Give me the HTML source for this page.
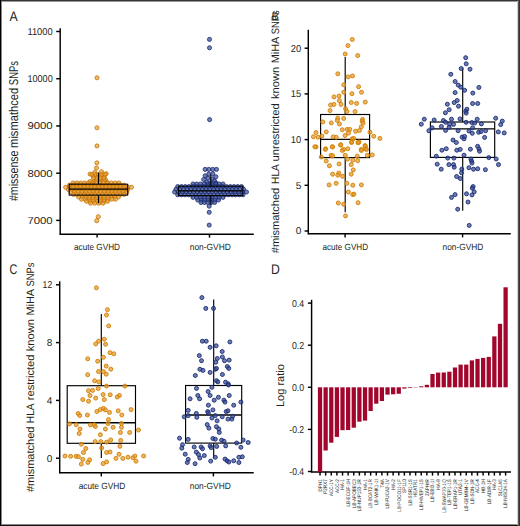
<!DOCTYPE html>
<html><head><meta charset="utf-8"><style>
html,body{margin:0;padding:0;background:#fff;}
body{width:520px;height:526px;overflow:hidden;position:relative;}
svg{position:absolute;left:0;top:0;display:block;}
text{font-family:"Liberation Sans", sans-serif;text-rendering:geometricPrecision;}
</style></head><body>
<svg width="520" height="526" viewBox="0 0 520 526">
<rect x="0" y="0" width="520" height="526" fill="#fff"/>
<text x="9.40" y="20.60" font-size="14" text-anchor="start" fill="#231f20" textLength="8.20" lengthAdjust="spacingAndGlyphs" >A</text>
<text x="270.90" y="273.60" font-size="14" text-anchor="start" fill="#231f20" textLength="8.80" lengthAdjust="spacingAndGlyphs" >D</text>
<text x="9.60" y="273.60" font-size="14" text-anchor="start" fill="#231f20" textLength="7.80" lengthAdjust="spacingAndGlyphs" >C</text>
<line x1="60.20" y1="28.30" x2="60.20" y2="234.70" stroke="#000" stroke-width="1.45"/>
<line x1="59.70" y1="234.20" x2="253.80" y2="234.20" stroke="#000" stroke-width="1.45"/>
<line x1="56.20" y1="220.40" x2="60.20" y2="220.40" stroke="#000" stroke-width="1.45"/>
<text x="52.70" y="223.80" font-size="10.0" text-anchor="end" fill="#231f20" textLength="25.30" lengthAdjust="spacingAndGlyphs" >7000</text>
<line x1="56.20" y1="173.18" x2="60.20" y2="173.18" stroke="#000" stroke-width="1.45"/>
<text x="52.70" y="176.58" font-size="10.0" text-anchor="end" fill="#231f20" textLength="25.30" lengthAdjust="spacingAndGlyphs" >8000</text>
<line x1="56.20" y1="125.95" x2="60.20" y2="125.95" stroke="#000" stroke-width="1.45"/>
<text x="52.70" y="129.35" font-size="10.0" text-anchor="end" fill="#231f20" textLength="25.30" lengthAdjust="spacingAndGlyphs" >9000</text>
<line x1="56.20" y1="78.72" x2="60.20" y2="78.72" stroke="#000" stroke-width="1.45"/>
<text x="52.70" y="82.12" font-size="10.0" text-anchor="end" fill="#231f20" textLength="25.30" lengthAdjust="spacingAndGlyphs" >10000</text>
<line x1="56.20" y1="31.50" x2="60.20" y2="31.50" stroke="#000" stroke-width="1.45"/>
<text x="52.70" y="34.90" font-size="10.0" text-anchor="end" fill="#231f20" textLength="25.30" lengthAdjust="spacingAndGlyphs" >11000</text>
<line x1="97.10" y1="234.20" x2="97.10" y2="237.60" stroke="#000" stroke-width="1.45"/>
<text x="97.00" y="250.30" font-size="9" text-anchor="middle" fill="#231f20" textLength="46.00" lengthAdjust="spacingAndGlyphs" >acute GVHD</text>
<line x1="209.50" y1="234.20" x2="209.50" y2="237.60" stroke="#000" stroke-width="1.45"/>
<text x="210.25" y="250.30" font-size="9" text-anchor="middle" fill="#231f20" textLength="41.00" lengthAdjust="spacingAndGlyphs" >non-GVHD</text>
<text x="18.00" y="201.00" font-size="12.8" text-anchor="start" fill="#231f20" textLength="50.40" lengthAdjust="spacingAndGlyphs" transform="rotate(-90 18.00 201.00)" >#missense</text>
<text x="18.00" y="147.90" font-size="12.8" text-anchor="start" fill="#231f20" textLength="60.10" lengthAdjust="spacingAndGlyphs" transform="rotate(-90 18.00 147.90)" >mismathced</text>
<text x="18.00" y="85.20" font-size="12.8" text-anchor="start" fill="#231f20" textLength="24.30" lengthAdjust="spacingAndGlyphs" transform="rotate(-90 18.00 85.20)" >SNPs</text>
<line x1="308.30" y1="29.80" x2="308.30" y2="234.30" stroke="#000" stroke-width="1.45"/>
<line x1="307.80" y1="233.80" x2="510.80" y2="233.80" stroke="#000" stroke-width="1.45"/>
<line x1="304.60" y1="231.00" x2="308.30" y2="231.00" stroke="#000" stroke-width="1.45"/>
<text x="301.20" y="234.40" font-size="10.0" text-anchor="end" fill="#231f20" >0</text>
<line x1="304.60" y1="185.30" x2="308.30" y2="185.30" stroke="#000" stroke-width="1.45"/>
<text x="301.20" y="188.70" font-size="10.0" text-anchor="end" fill="#231f20" >5</text>
<line x1="304.60" y1="139.60" x2="308.30" y2="139.60" stroke="#000" stroke-width="1.45"/>
<text x="301.20" y="143.00" font-size="10.0" text-anchor="end" fill="#231f20" textLength="10.40" lengthAdjust="spacingAndGlyphs" >10</text>
<line x1="304.60" y1="93.90" x2="308.30" y2="93.90" stroke="#000" stroke-width="1.45"/>
<text x="301.20" y="97.30" font-size="10.0" text-anchor="end" fill="#231f20" textLength="10.40" lengthAdjust="spacingAndGlyphs" >15</text>
<line x1="304.60" y1="48.20" x2="308.30" y2="48.20" stroke="#000" stroke-width="1.45"/>
<text x="301.20" y="51.60" font-size="10.0" text-anchor="end" fill="#231f20" textLength="10.40" lengthAdjust="spacingAndGlyphs" >20</text>
<line x1="345.10" y1="233.80" x2="345.10" y2="237.40" stroke="#000" stroke-width="1.45"/>
<text x="345.25" y="250.20" font-size="9" text-anchor="middle" fill="#231f20" textLength="45.50" lengthAdjust="spacingAndGlyphs" >acute GVHD</text>
<line x1="462.60" y1="233.80" x2="462.60" y2="237.40" stroke="#000" stroke-width="1.45"/>
<text x="462.90" y="250.20" font-size="9" text-anchor="middle" fill="#231f20" textLength="40.80" lengthAdjust="spacingAndGlyphs" >non-GVHD</text>
<text x="279.30" y="253.20" font-size="10.8" text-anchor="start" fill="#231f20" textLength="65.40" lengthAdjust="spacingAndGlyphs" transform="rotate(-90 279.30 253.20)" >#mismatched</text>
<text x="279.30" y="184.00" font-size="10.8" text-anchor="start" fill="#231f20" textLength="19.90" lengthAdjust="spacingAndGlyphs" transform="rotate(-90 279.30 184.00)" >HLA</text>
<text x="279.30" y="161.40" font-size="10.8" text-anchor="start" fill="#231f20" textLength="58.10" lengthAdjust="spacingAndGlyphs" transform="rotate(-90 279.30 161.40)" >unrestricted</text>
<text x="279.30" y="99.00" font-size="10.8" text-anchor="start" fill="#231f20" textLength="32.30" lengthAdjust="spacingAndGlyphs" transform="rotate(-90 279.30 99.00)" >known</text>
<text x="279.30" y="63.30" font-size="10.8" text-anchor="start" fill="#231f20" textLength="26.50" lengthAdjust="spacingAndGlyphs" transform="rotate(-90 279.30 63.30)" >MiHA</text>
<text x="279.30" y="34.30" font-size="10.8" text-anchor="start" fill="#231f20" textLength="23.90" lengthAdjust="spacingAndGlyphs" transform="rotate(-90 279.30 34.30)" >SNPs</text>
<text x="271.50" y="19.50" font-size="11" text-anchor="start" fill="#231f20" >B</text>
<line x1="59.70" y1="281.30" x2="59.70" y2="473.30" stroke="#000" stroke-width="1.45"/>
<line x1="59.20" y1="472.80" x2="253.70" y2="472.80" stroke="#000" stroke-width="1.45"/>
<line x1="56.00" y1="458.20" x2="59.70" y2="458.20" stroke="#000" stroke-width="1.45"/>
<text x="52.20" y="461.60" font-size="10.0" text-anchor="end" fill="#231f20" >0</text>
<line x1="56.00" y1="400.40" x2="59.70" y2="400.40" stroke="#000" stroke-width="1.45"/>
<text x="52.20" y="403.80" font-size="10.0" text-anchor="end" fill="#231f20" >4</text>
<line x1="56.00" y1="342.60" x2="59.70" y2="342.60" stroke="#000" stroke-width="1.45"/>
<text x="52.20" y="346.00" font-size="10.0" text-anchor="end" fill="#231f20" >8</text>
<line x1="56.00" y1="284.80" x2="59.70" y2="284.80" stroke="#000" stroke-width="1.45"/>
<text x="52.20" y="288.20" font-size="10.0" text-anchor="end" fill="#231f20" textLength="9.60" lengthAdjust="spacingAndGlyphs" >12</text>
<line x1="101.30" y1="472.80" x2="101.30" y2="476.40" stroke="#000" stroke-width="1.45"/>
<text x="102.00" y="489.20" font-size="9" text-anchor="middle" fill="#231f20" textLength="46.70" lengthAdjust="spacingAndGlyphs" >acute GVHD</text>
<line x1="213.40" y1="472.80" x2="213.40" y2="476.40" stroke="#000" stroke-width="1.45"/>
<text x="210.30" y="489.20" font-size="9" text-anchor="middle" fill="#231f20" textLength="41.00" lengthAdjust="spacingAndGlyphs" >non-GVHD</text>
<text x="34.20" y="492.00" font-size="10.8" text-anchor="start" fill="#231f20" textLength="65.40" lengthAdjust="spacingAndGlyphs" transform="rotate(-90 34.20 492.00)" >#mismatched</text>
<text x="34.20" y="423.20" font-size="10.8" text-anchor="start" fill="#231f20" textLength="19.90" lengthAdjust="spacingAndGlyphs" transform="rotate(-90 34.20 423.20)" >HLA</text>
<text x="34.20" y="400.20" font-size="10.8" text-anchor="start" fill="#231f20" textLength="45.60" lengthAdjust="spacingAndGlyphs" transform="rotate(-90 34.20 400.20)" >restricted</text>
<text x="34.20" y="351.20" font-size="10.8" text-anchor="start" fill="#231f20" textLength="32.30" lengthAdjust="spacingAndGlyphs" transform="rotate(-90 34.20 351.20)" >known</text>
<text x="34.20" y="315.50" font-size="10.8" text-anchor="start" fill="#231f20" textLength="26.50" lengthAdjust="spacingAndGlyphs" transform="rotate(-90 34.20 315.50)" >MiHA</text>
<text x="34.20" y="286.50" font-size="10.8" text-anchor="start" fill="#231f20" textLength="23.90" lengthAdjust="spacingAndGlyphs" transform="rotate(-90 34.20 286.50)" >SNPs</text>
<line x1="311.60" y1="299.80" x2="311.60" y2="472.40" stroke="#000" stroke-width="1.45"/>
<line x1="311.10" y1="471.90" x2="511.00" y2="471.90" stroke="#000" stroke-width="1.45"/>
<rect x="317.90" y="387.30" width="4.25" height="85.10" fill="#a2062c" stroke="none" stroke-width="1.0"/>
<rect x="323.52" y="387.30" width="4.25" height="63.20" fill="#a2062c" stroke="none" stroke-width="1.0"/>
<rect x="329.15" y="387.30" width="4.25" height="55.40" fill="#a2062c" stroke="none" stroke-width="1.0"/>
<rect x="334.77" y="387.30" width="4.25" height="49.60" fill="#a2062c" stroke="none" stroke-width="1.0"/>
<rect x="340.40" y="387.30" width="4.25" height="42.90" fill="#a2062c" stroke="none" stroke-width="1.0"/>
<rect x="346.02" y="387.30" width="4.25" height="42.70" fill="#a2062c" stroke="none" stroke-width="1.0"/>
<rect x="351.64" y="387.30" width="4.25" height="40.40" fill="#a2062c" stroke="none" stroke-width="1.0"/>
<rect x="357.27" y="387.30" width="4.25" height="34.40" fill="#a2062c" stroke="none" stroke-width="1.0"/>
<rect x="362.89" y="387.30" width="4.25" height="33.30" fill="#a2062c" stroke="none" stroke-width="1.0"/>
<rect x="368.52" y="387.30" width="4.25" height="23.70" fill="#a2062c" stroke="none" stroke-width="1.0"/>
<rect x="374.14" y="387.30" width="4.25" height="16.40" fill="#a2062c" stroke="none" stroke-width="1.0"/>
<rect x="379.76" y="387.30" width="4.25" height="13.70" fill="#a2062c" stroke="none" stroke-width="1.0"/>
<rect x="385.39" y="387.30" width="4.25" height="7.30" fill="#a2062c" stroke="none" stroke-width="1.0"/>
<rect x="391.01" y="387.30" width="4.25" height="7.00" fill="#a2062c" stroke="none" stroke-width="1.0"/>
<rect x="396.64" y="387.30" width="4.25" height="6.50" fill="#a2062c" stroke="none" stroke-width="1.0"/>
<rect x="402.26" y="387.30" width="4.25" height="1.30" fill="#a2062c" stroke="none" stroke-width="1.0"/>
<rect x="407.88" y="387.30" width="4.25" height="0.70" fill="#a2062c" stroke="none" stroke-width="1.0"/>
<rect x="413.51" y="387.30" width="4.25" height="0.30" fill="#a2062c" stroke="none" stroke-width="1.0"/>
<rect x="419.13" y="386.30" width="4.25" height="1.00" fill="#a2062c" stroke="none" stroke-width="1.0"/>
<rect x="424.76" y="384.80" width="4.25" height="2.50" fill="#a2062c" stroke="none" stroke-width="1.0"/>
<rect x="430.38" y="374.00" width="4.25" height="13.30" fill="#a2062c" stroke="none" stroke-width="1.0"/>
<rect x="436.00" y="372.60" width="4.25" height="14.70" fill="#a2062c" stroke="none" stroke-width="1.0"/>
<rect x="441.63" y="372.50" width="4.25" height="14.80" fill="#a2062c" stroke="none" stroke-width="1.0"/>
<rect x="447.25" y="371.70" width="4.25" height="15.60" fill="#a2062c" stroke="none" stroke-width="1.0"/>
<rect x="452.88" y="367.50" width="4.25" height="19.80" fill="#a2062c" stroke="none" stroke-width="1.0"/>
<rect x="458.50" y="364.60" width="4.25" height="22.70" fill="#a2062c" stroke="none" stroke-width="1.0"/>
<rect x="464.12" y="364.60" width="4.25" height="22.70" fill="#a2062c" stroke="none" stroke-width="1.0"/>
<rect x="469.75" y="360.40" width="4.25" height="26.90" fill="#a2062c" stroke="none" stroke-width="1.0"/>
<rect x="475.37" y="358.90" width="4.25" height="28.40" fill="#a2062c" stroke="none" stroke-width="1.0"/>
<rect x="481.00" y="357.90" width="4.25" height="29.40" fill="#a2062c" stroke="none" stroke-width="1.0"/>
<rect x="486.62" y="356.90" width="4.25" height="30.40" fill="#a2062c" stroke="none" stroke-width="1.0"/>
<rect x="492.24" y="336.40" width="4.25" height="50.90" fill="#a2062c" stroke="none" stroke-width="1.0"/>
<rect x="497.87" y="323.80" width="4.25" height="63.50" fill="#a2062c" stroke="none" stroke-width="1.0"/>
<rect x="503.49" y="287.30" width="4.25" height="100.00" fill="#a2062c" stroke="none" stroke-width="1.0"/>
<line x1="307.90" y1="303.10" x2="311.60" y2="303.10" stroke="#000" stroke-width="1.45"/>
<text x="304.10" y="306.50" font-size="10.0" text-anchor="end" fill="#231f20" textLength="12.20" lengthAdjust="spacingAndGlyphs" >0.4</text>
<line x1="307.90" y1="345.20" x2="311.60" y2="345.20" stroke="#000" stroke-width="1.45"/>
<text x="304.10" y="348.60" font-size="10.0" text-anchor="end" fill="#231f20" textLength="12.20" lengthAdjust="spacingAndGlyphs" >0.2</text>
<line x1="307.90" y1="387.30" x2="311.60" y2="387.30" stroke="#000" stroke-width="1.45"/>
<text x="304.10" y="390.70" font-size="10.0" text-anchor="end" fill="#231f20" textLength="12.20" lengthAdjust="spacingAndGlyphs" >0.0</text>
<line x1="307.90" y1="429.40" x2="311.60" y2="429.40" stroke="#000" stroke-width="1.45"/>
<text x="304.10" y="432.80" font-size="10.0" text-anchor="end" fill="#231f20" textLength="14.80" lengthAdjust="spacingAndGlyphs" >-0.2</text>
<line x1="307.90" y1="471.50" x2="311.60" y2="471.50" stroke="#000" stroke-width="1.45"/>
<text x="304.10" y="474.90" font-size="10.0" text-anchor="end" fill="#231f20" textLength="14.80" lengthAdjust="spacingAndGlyphs" >-0.4</text>
<line x1="320.02" y1="471.90" x2="320.02" y2="475.60" stroke="#000" stroke-width="1.45"/>
<text x="321.82" y="479.20" font-size="5.2" text-anchor="end" fill="#1a1a1a" textLength="12.27" lengthAdjust="spacingAndGlyphs" transform="rotate(-90 321.82 479.20)" >DPH1</text>
<line x1="325.64" y1="471.90" x2="325.64" y2="475.60" stroke="#000" stroke-width="1.45"/>
<text x="327.44" y="479.20" font-size="5.2" text-anchor="end" fill="#1a1a1a" textLength="14.57" lengthAdjust="spacingAndGlyphs" transform="rotate(-90 327.44 479.20)" >P2RX7</text>
<line x1="331.27" y1="471.90" x2="331.27" y2="475.60" stroke="#000" stroke-width="1.45"/>
<text x="333.07" y="479.20" font-size="5.2" text-anchor="end" fill="#1a1a1a" textLength="16.87" lengthAdjust="spacingAndGlyphs" transform="rotate(-90 333.07 479.20)" >ACC-1Y</text>
<line x1="336.89" y1="471.90" x2="336.89" y2="475.60" stroke="#000" stroke-width="1.45"/>
<text x="338.69" y="479.20" font-size="5.2" text-anchor="end" fill="#1a1a1a" textLength="13.80" lengthAdjust="spacingAndGlyphs" transform="rotate(-90 338.69 479.20)" >ACC-2</text>
<line x1="342.52" y1="471.90" x2="342.52" y2="475.60" stroke="#000" stroke-width="1.45"/>
<text x="344.32" y="479.20" font-size="5.2" text-anchor="end" fill="#1a1a1a" textLength="10.48" lengthAdjust="spacingAndGlyphs" transform="rotate(-90 344.32 479.20)" >HA-1</text>
<line x1="348.14" y1="471.90" x2="348.14" y2="475.60" stroke="#000" stroke-width="1.45"/>
<text x="349.94" y="479.20" font-size="5.2" text-anchor="end" fill="#1a1a1a" textLength="27.35" lengthAdjust="spacingAndGlyphs" transform="rotate(-90 349.94 479.20)" >LB-ECGF-1H</text>
<line x1="353.76" y1="471.90" x2="353.76" y2="475.60" stroke="#000" stroke-width="1.45"/>
<text x="355.56" y="479.20" font-size="5.2" text-anchor="end" fill="#1a1a1a" textLength="28.89" lengthAdjust="spacingAndGlyphs" transform="rotate(-90 355.56 479.20)" >LB-APOBEC3</text>
<line x1="359.39" y1="471.90" x2="359.39" y2="475.60" stroke="#000" stroke-width="1.45"/>
<text x="361.19" y="479.20" font-size="5.2" text-anchor="end" fill="#1a1a1a" textLength="31.96" lengthAdjust="spacingAndGlyphs" transform="rotate(-90 361.19 479.20)" >LB-NUP133-1R</text>
<line x1="365.01" y1="471.90" x2="365.01" y2="475.60" stroke="#000" stroke-width="1.45"/>
<text x="366.81" y="479.20" font-size="5.2" text-anchor="end" fill="#1a1a1a" textLength="10.48" lengthAdjust="spacingAndGlyphs" transform="rotate(-90 366.81 479.20)" >HA-1</text>
<line x1="370.64" y1="471.90" x2="370.64" y2="475.60" stroke="#000" stroke-width="1.45"/>
<text x="372.44" y="479.20" font-size="5.2" text-anchor="end" fill="#1a1a1a" textLength="29.40" lengthAdjust="spacingAndGlyphs" transform="rotate(-90 372.44 479.20)" >LB-BCAT2-1R</text>
<line x1="376.26" y1="471.90" x2="376.26" y2="475.60" stroke="#000" stroke-width="1.45"/>
<text x="378.06" y="479.20" font-size="5.2" text-anchor="end" fill="#1a1a1a" textLength="25.82" lengthAdjust="spacingAndGlyphs" transform="rotate(-90 378.06 479.20)" >LB-WNK1-1I</text>
<line x1="381.88" y1="471.90" x2="381.88" y2="475.60" stroke="#000" stroke-width="1.45"/>
<text x="383.68" y="479.20" font-size="5.2" text-anchor="end" fill="#1a1a1a" textLength="8.44" lengthAdjust="spacingAndGlyphs" transform="rotate(-90 383.68 479.20)" >T4A</text>
<line x1="387.51" y1="471.90" x2="387.51" y2="475.60" stroke="#000" stroke-width="1.45"/>
<text x="389.31" y="479.20" font-size="5.2" text-anchor="end" fill="#1a1a1a" textLength="29.40" lengthAdjust="spacingAndGlyphs" transform="rotate(-90 389.31 479.20)" >LB-FUCA2-1V</text>
<line x1="393.13" y1="471.90" x2="393.13" y2="475.60" stroke="#000" stroke-width="1.45"/>
<text x="394.93" y="479.20" font-size="5.2" text-anchor="end" fill="#1a1a1a" textLength="10.48" lengthAdjust="spacingAndGlyphs" transform="rotate(-90 394.93 479.20)" >HA-2</text>
<line x1="398.76" y1="471.90" x2="398.76" y2="475.60" stroke="#000" stroke-width="1.45"/>
<text x="400.56" y="479.20" font-size="5.2" text-anchor="end" fill="#1a1a1a" textLength="32.72" lengthAdjust="spacingAndGlyphs" transform="rotate(-90 400.56 479.20)" >LB-POCO11-1F</text>
<line x1="404.38" y1="471.90" x2="404.38" y2="475.60" stroke="#000" stroke-width="1.45"/>
<text x="406.18" y="479.20" font-size="5.2" text-anchor="end" fill="#1a1a1a" textLength="13.81" lengthAdjust="spacingAndGlyphs" transform="rotate(-90 406.18 479.20)" >SP110</text>
<line x1="410.00" y1="471.90" x2="410.00" y2="475.60" stroke="#000" stroke-width="1.45"/>
<text x="411.80" y="479.20" font-size="5.2" text-anchor="end" fill="#1a1a1a" textLength="26.33" lengthAdjust="spacingAndGlyphs" transform="rotate(-90 411.80 479.20)" >LB-SSR1-1S</text>
<line x1="415.63" y1="471.90" x2="415.63" y2="475.60" stroke="#000" stroke-width="1.45"/>
<text x="417.43" y="479.20" font-size="5.2" text-anchor="end" fill="#1a1a1a" textLength="18.15" lengthAdjust="spacingAndGlyphs" transform="rotate(-90 417.43 479.20)" >HEATR1</text>
<line x1="421.25" y1="471.90" x2="421.25" y2="475.60" stroke="#000" stroke-width="1.45"/>
<text x="423.05" y="479.20" font-size="5.2" text-anchor="end" fill="#1a1a1a" textLength="30.68" lengthAdjust="spacingAndGlyphs" transform="rotate(-90 423.05 479.20)" >LB-HIVEP1-1S</text>
<line x1="426.88" y1="471.90" x2="426.88" y2="475.60" stroke="#000" stroke-width="1.45"/>
<text x="428.68" y="479.20" font-size="5.2" text-anchor="end" fill="#1a1a1a" textLength="16.87" lengthAdjust="spacingAndGlyphs" transform="rotate(-90 428.68 479.20)" >ZAPHIR</text>
<line x1="432.50" y1="471.90" x2="432.50" y2="475.60" stroke="#000" stroke-width="1.45"/>
<text x="434.30" y="479.20" font-size="5.2" text-anchor="end" fill="#1a1a1a" textLength="22.50" lengthAdjust="spacingAndGlyphs" transform="rotate(-90 434.30 479.20)" >LB-EBI3-1I</text>
<line x1="438.12" y1="471.90" x2="438.12" y2="475.60" stroke="#000" stroke-width="1.45"/>
<text x="439.92" y="479.20" font-size="5.2" text-anchor="end" fill="#1a1a1a" textLength="10.48" lengthAdjust="spacingAndGlyphs" transform="rotate(-90 439.92 479.20)" >HA-8</text>
<line x1="443.75" y1="471.90" x2="443.75" y2="475.60" stroke="#000" stroke-width="1.45"/>
<text x="445.55" y="479.20" font-size="5.2" text-anchor="end" fill="#1a1a1a" textLength="33.49" lengthAdjust="spacingAndGlyphs" transform="rotate(-90 445.55 479.20)" >LB-SWAP70-1Q</text>
<line x1="449.37" y1="471.90" x2="449.37" y2="475.60" stroke="#000" stroke-width="1.45"/>
<text x="451.17" y="479.20" font-size="5.2" text-anchor="end" fill="#1a1a1a" textLength="25.82" lengthAdjust="spacingAndGlyphs" transform="rotate(-90 451.17 479.20)" >LB-TEP1-1S</text>
<line x1="455.00" y1="471.90" x2="455.00" y2="475.60" stroke="#000" stroke-width="1.45"/>
<text x="456.80" y="479.20" font-size="5.2" text-anchor="end" fill="#1a1a1a" textLength="29.66" lengthAdjust="spacingAndGlyphs" transform="rotate(-90 456.80 479.20)" >LB-ERAP1-1R</text>
<line x1="460.62" y1="471.90" x2="460.62" y2="475.60" stroke="#000" stroke-width="1.45"/>
<text x="462.42" y="479.20" font-size="5.2" text-anchor="end" fill="#1a1a1a" textLength="15.85" lengthAdjust="spacingAndGlyphs" transform="rotate(-90 462.42 479.20)" >UTA2-1</text>
<line x1="466.24" y1="471.90" x2="466.24" y2="475.60" stroke="#000" stroke-width="1.45"/>
<text x="468.04" y="479.20" font-size="5.2" text-anchor="end" fill="#1a1a1a" textLength="31.95" lengthAdjust="spacingAndGlyphs" transform="rotate(-90 468.04 479.20)" >LB-GEMIN4-1V</text>
<line x1="471.87" y1="471.90" x2="471.87" y2="475.60" stroke="#000" stroke-width="1.45"/>
<text x="473.67" y="479.20" font-size="5.2" text-anchor="end" fill="#1a1a1a" textLength="24.54" lengthAdjust="spacingAndGlyphs" transform="rotate(-90 473.67 479.20)" >LB-SON-1R</text>
<line x1="477.49" y1="471.90" x2="477.49" y2="475.60" stroke="#000" stroke-width="1.45"/>
<text x="479.29" y="479.20" font-size="5.2" text-anchor="end" fill="#1a1a1a" textLength="13.80" lengthAdjust="spacingAndGlyphs" transform="rotate(-90 479.29 479.20)" >ACC-4</text>
<line x1="483.12" y1="471.90" x2="483.12" y2="475.60" stroke="#000" stroke-width="1.45"/>
<text x="484.92" y="479.20" font-size="5.2" text-anchor="end" fill="#1a1a1a" textLength="13.80" lengthAdjust="spacingAndGlyphs" transform="rotate(-90 484.92 479.20)" >HB-1H</text>
<line x1="488.74" y1="471.90" x2="488.74" y2="475.60" stroke="#000" stroke-width="1.45"/>
<text x="490.54" y="479.20" font-size="5.2" text-anchor="end" fill="#1a1a1a" textLength="25.05" lengthAdjust="spacingAndGlyphs" transform="rotate(-90 490.54 479.20)" >LB-ADIR-1F</text>
<line x1="494.36" y1="471.90" x2="494.36" y2="475.60" stroke="#000" stroke-width="1.45"/>
<text x="496.16" y="479.20" font-size="5.2" text-anchor="end" fill="#1a1a1a" textLength="10.48" lengthAdjust="spacingAndGlyphs" transform="rotate(-90 496.16 479.20)" >HA-3</text>
<line x1="499.99" y1="471.90" x2="499.99" y2="475.60" stroke="#000" stroke-width="1.45"/>
<text x="501.79" y="479.20" font-size="5.2" text-anchor="end" fill="#1a1a1a" textLength="17.13" lengthAdjust="spacingAndGlyphs" transform="rotate(-90 501.79 479.20)" >SLC1A5</text>
<line x1="505.61" y1="471.90" x2="505.61" y2="475.60" stroke="#000" stroke-width="1.45"/>
<text x="507.41" y="479.20" font-size="5.2" text-anchor="end" fill="#1a1a1a" textLength="28.63" lengthAdjust="spacingAndGlyphs" transform="rotate(-90 507.41 479.20)" >LB-NISCH-1A</text>
<text x="284.40" y="385.60" font-size="11" text-anchor="middle" fill="#231f20" textLength="42.80" lengthAdjust="spacingAndGlyphs" transform="rotate(-90 284.40 385.60)" >Log ratio</text>
<g fill="#e49a30" fill-opacity="0.68" stroke="#c87400" stroke-opacity="0.9" stroke-width="0.9">
<circle cx="97.00" cy="77.80" r="2.05"/>
<circle cx="97.00" cy="127.80" r="2.05"/>
<circle cx="97.00" cy="145.90" r="2.05"/>
<circle cx="96.90" cy="162.90" r="2.05"/>
<circle cx="96.50" cy="168.10" r="2.05"/>
<circle cx="90.10" cy="174.10" r="2.05"/>
<circle cx="94.80" cy="172.40" r="2.05"/>
<circle cx="101.50" cy="171.70" r="2.05"/>
<circle cx="106.20" cy="173.70" r="2.05"/>
<circle cx="93.50" cy="176.40" r="2.05"/>
<circle cx="96.80" cy="175.80" r="2.05"/>
<circle cx="100.90" cy="175.80" r="2.05"/>
<circle cx="104.20" cy="177.10" r="2.05"/>
<circle cx="96.20" cy="179.50" r="2.05"/>
<circle cx="101.50" cy="179.10" r="2.05"/>
<circle cx="105.60" cy="180.10" r="2.05"/>
<circle cx="90.10" cy="181.50" r="2.05"/>
<circle cx="93.80" cy="181.80" r="2.05"/>
<circle cx="100.20" cy="181.80" r="2.05"/>
<circle cx="106.90" cy="182.20" r="2.05"/>
<circle cx="98.30" cy="216.70" r="2.05"/>
<circle cx="96.70" cy="220.70" r="2.05"/>
<circle cx="92.00" cy="174.50" r="2.05"/>
<circle cx="95.25" cy="174.50" r="2.05"/>
<circle cx="98.50" cy="174.50" r="2.05"/>
<circle cx="101.75" cy="174.50" r="2.05"/>
<circle cx="105.00" cy="174.50" r="2.05"/>
<circle cx="93.50" cy="178.00" r="2.05"/>
<circle cx="97.00" cy="178.00" r="2.05"/>
<circle cx="100.50" cy="178.00" r="2.05"/>
<circle cx="104.00" cy="178.00" r="2.05"/>
<circle cx="73.00" cy="183.00" r="2.05"/>
<circle cx="76.83" cy="183.00" r="2.05"/>
<circle cx="80.67" cy="183.00" r="2.05"/>
<circle cx="84.50" cy="183.00" r="2.05"/>
<circle cx="88.33" cy="183.00" r="2.05"/>
<circle cx="92.17" cy="183.00" r="2.05"/>
<circle cx="96.00" cy="183.00" r="2.05"/>
<circle cx="99.83" cy="183.00" r="2.05"/>
<circle cx="103.67" cy="183.00" r="2.05"/>
<circle cx="107.50" cy="183.00" r="2.05"/>
<circle cx="111.33" cy="183.00" r="2.05"/>
<circle cx="115.17" cy="183.00" r="2.05"/>
<circle cx="119.00" cy="183.00" r="2.05"/>
<circle cx="69.50" cy="185.20" r="2.05"/>
<circle cx="73.13" cy="185.20" r="2.05"/>
<circle cx="76.77" cy="185.20" r="2.05"/>
<circle cx="80.40" cy="185.20" r="2.05"/>
<circle cx="84.03" cy="185.20" r="2.05"/>
<circle cx="87.67" cy="185.20" r="2.05"/>
<circle cx="91.30" cy="185.20" r="2.05"/>
<circle cx="94.93" cy="185.20" r="2.05"/>
<circle cx="98.57" cy="185.20" r="2.05"/>
<circle cx="102.20" cy="185.20" r="2.05"/>
<circle cx="105.83" cy="185.20" r="2.05"/>
<circle cx="109.47" cy="185.20" r="2.05"/>
<circle cx="113.10" cy="185.20" r="2.05"/>
<circle cx="116.73" cy="185.20" r="2.05"/>
<circle cx="120.37" cy="185.20" r="2.05"/>
<circle cx="124.00" cy="185.20" r="2.05"/>
<circle cx="65.60" cy="187.30" r="2.05"/>
<circle cx="69.26" cy="187.30" r="2.05"/>
<circle cx="72.92" cy="187.30" r="2.05"/>
<circle cx="76.58" cy="187.30" r="2.05"/>
<circle cx="80.24" cy="187.30" r="2.05"/>
<circle cx="83.91" cy="187.30" r="2.05"/>
<circle cx="87.57" cy="187.30" r="2.05"/>
<circle cx="91.23" cy="187.30" r="2.05"/>
<circle cx="94.89" cy="187.30" r="2.05"/>
<circle cx="98.55" cy="187.30" r="2.05"/>
<circle cx="102.21" cy="187.30" r="2.05"/>
<circle cx="105.87" cy="187.30" r="2.05"/>
<circle cx="109.53" cy="187.30" r="2.05"/>
<circle cx="113.19" cy="187.30" r="2.05"/>
<circle cx="116.86" cy="187.30" r="2.05"/>
<circle cx="120.52" cy="187.30" r="2.05"/>
<circle cx="124.18" cy="187.30" r="2.05"/>
<circle cx="127.84" cy="187.30" r="2.05"/>
<circle cx="131.50" cy="187.30" r="2.05"/>
<circle cx="68.50" cy="189.60" r="2.05"/>
<circle cx="72.19" cy="189.60" r="2.05"/>
<circle cx="75.88" cy="189.60" r="2.05"/>
<circle cx="79.56" cy="189.60" r="2.05"/>
<circle cx="83.25" cy="189.60" r="2.05"/>
<circle cx="86.94" cy="189.60" r="2.05"/>
<circle cx="90.62" cy="189.60" r="2.05"/>
<circle cx="94.31" cy="189.60" r="2.05"/>
<circle cx="98.00" cy="189.60" r="2.05"/>
<circle cx="101.69" cy="189.60" r="2.05"/>
<circle cx="105.38" cy="189.60" r="2.05"/>
<circle cx="109.06" cy="189.60" r="2.05"/>
<circle cx="112.75" cy="189.60" r="2.05"/>
<circle cx="116.44" cy="189.60" r="2.05"/>
<circle cx="120.12" cy="189.60" r="2.05"/>
<circle cx="123.81" cy="189.60" r="2.05"/>
<circle cx="127.50" cy="189.60" r="2.05"/>
<circle cx="70.80" cy="192.00" r="2.05"/>
<circle cx="74.55" cy="192.00" r="2.05"/>
<circle cx="78.29" cy="192.00" r="2.05"/>
<circle cx="82.04" cy="192.00" r="2.05"/>
<circle cx="85.79" cy="192.00" r="2.05"/>
<circle cx="89.53" cy="192.00" r="2.05"/>
<circle cx="93.28" cy="192.00" r="2.05"/>
<circle cx="97.03" cy="192.00" r="2.05"/>
<circle cx="100.77" cy="192.00" r="2.05"/>
<circle cx="104.52" cy="192.00" r="2.05"/>
<circle cx="108.27" cy="192.00" r="2.05"/>
<circle cx="112.01" cy="192.00" r="2.05"/>
<circle cx="115.76" cy="192.00" r="2.05"/>
<circle cx="119.51" cy="192.00" r="2.05"/>
<circle cx="123.25" cy="192.00" r="2.05"/>
<circle cx="127.00" cy="192.00" r="2.05"/>
<circle cx="73.50" cy="194.40" r="2.05"/>
<circle cx="77.11" cy="194.40" r="2.05"/>
<circle cx="80.71" cy="194.40" r="2.05"/>
<circle cx="84.32" cy="194.40" r="2.05"/>
<circle cx="87.93" cy="194.40" r="2.05"/>
<circle cx="91.54" cy="194.40" r="2.05"/>
<circle cx="95.14" cy="194.40" r="2.05"/>
<circle cx="98.75" cy="194.40" r="2.05"/>
<circle cx="102.36" cy="194.40" r="2.05"/>
<circle cx="105.96" cy="194.40" r="2.05"/>
<circle cx="109.57" cy="194.40" r="2.05"/>
<circle cx="113.18" cy="194.40" r="2.05"/>
<circle cx="116.79" cy="194.40" r="2.05"/>
<circle cx="120.39" cy="194.40" r="2.05"/>
<circle cx="124.00" cy="194.40" r="2.05"/>
<circle cx="78.70" cy="197.00" r="2.05"/>
<circle cx="82.31" cy="197.00" r="2.05"/>
<circle cx="85.92" cy="197.00" r="2.05"/>
<circle cx="89.53" cy="197.00" r="2.05"/>
<circle cx="93.14" cy="197.00" r="2.05"/>
<circle cx="96.75" cy="197.00" r="2.05"/>
<circle cx="100.35" cy="197.00" r="2.05"/>
<circle cx="103.96" cy="197.00" r="2.05"/>
<circle cx="107.57" cy="197.00" r="2.05"/>
<circle cx="111.18" cy="197.00" r="2.05"/>
<circle cx="114.79" cy="197.00" r="2.05"/>
<circle cx="118.40" cy="197.00" r="2.05"/>
<circle cx="81.50" cy="199.20" r="2.05"/>
<circle cx="85.28" cy="199.20" r="2.05"/>
<circle cx="89.06" cy="199.20" r="2.05"/>
<circle cx="92.83" cy="199.20" r="2.05"/>
<circle cx="96.61" cy="199.20" r="2.05"/>
<circle cx="100.39" cy="199.20" r="2.05"/>
<circle cx="104.17" cy="199.20" r="2.05"/>
<circle cx="107.94" cy="199.20" r="2.05"/>
<circle cx="111.72" cy="199.20" r="2.05"/>
<circle cx="115.50" cy="199.20" r="2.05"/>
<circle cx="86.50" cy="201.30" r="2.05"/>
<circle cx="90.00" cy="201.30" r="2.05"/>
<circle cx="93.50" cy="201.30" r="2.05"/>
<circle cx="97.00" cy="201.30" r="2.05"/>
<circle cx="100.50" cy="201.30" r="2.05"/>
<circle cx="104.00" cy="201.30" r="2.05"/>
<circle cx="107.50" cy="201.30" r="2.05"/>
<circle cx="90.50" cy="203.20" r="2.05"/>
<circle cx="94.67" cy="203.20" r="2.05"/>
<circle cx="98.83" cy="203.20" r="2.05"/>
<circle cx="103.00" cy="203.20" r="2.05"/>
</g>
<g fill="#374b92" fill-opacity="0.7" stroke="#1a2c74" stroke-opacity="0.9" stroke-width="0.9">
<circle cx="205.10" cy="169.40" r="2.05"/>
<circle cx="208.80" cy="169.40" r="2.05"/>
<circle cx="212.80" cy="169.40" r="2.05"/>
<circle cx="216.50" cy="169.40" r="2.05"/>
<circle cx="208.80" cy="174.10" r="2.05"/>
<circle cx="212.80" cy="173.80" r="2.05"/>
<circle cx="205.10" cy="175.80" r="2.05"/>
<circle cx="215.90" cy="176.80" r="2.05"/>
<circle cx="203.70" cy="179.50" r="2.05"/>
<circle cx="208.10" cy="178.20" r="2.05"/>
<circle cx="212.20" cy="178.80" r="2.05"/>
<circle cx="214.50" cy="180.90" r="2.05"/>
<circle cx="206.80" cy="182.20" r="2.05"/>
<circle cx="210.50" cy="182.90" r="2.05"/>
<circle cx="215.90" cy="182.90" r="2.05"/>
<circle cx="209.20" cy="206.20" r="2.05"/>
<circle cx="209.20" cy="212.30" r="2.05"/>
<circle cx="209.20" cy="225.10" r="2.05"/>
<circle cx="209.50" cy="39.40" r="2.05"/>
<circle cx="209.50" cy="47.80" r="2.05"/>
<circle cx="209.60" cy="119.60" r="2.05"/>
<circle cx="193.00" cy="184.00" r="2.05"/>
<circle cx="196.75" cy="184.00" r="2.05"/>
<circle cx="200.50" cy="184.00" r="2.05"/>
<circle cx="204.25" cy="184.00" r="2.05"/>
<circle cx="208.00" cy="184.00" r="2.05"/>
<circle cx="211.75" cy="184.00" r="2.05"/>
<circle cx="215.50" cy="184.00" r="2.05"/>
<circle cx="219.25" cy="184.00" r="2.05"/>
<circle cx="223.00" cy="184.00" r="2.05"/>
<circle cx="177.70" cy="186.60" r="2.05"/>
<circle cx="181.45" cy="186.60" r="2.05"/>
<circle cx="185.21" cy="186.60" r="2.05"/>
<circle cx="188.96" cy="186.60" r="2.05"/>
<circle cx="192.71" cy="186.60" r="2.05"/>
<circle cx="196.46" cy="186.60" r="2.05"/>
<circle cx="200.22" cy="186.60" r="2.05"/>
<circle cx="203.97" cy="186.60" r="2.05"/>
<circle cx="207.72" cy="186.60" r="2.05"/>
<circle cx="211.48" cy="186.60" r="2.05"/>
<circle cx="215.23" cy="186.60" r="2.05"/>
<circle cx="218.98" cy="186.60" r="2.05"/>
<circle cx="222.74" cy="186.60" r="2.05"/>
<circle cx="226.49" cy="186.60" r="2.05"/>
<circle cx="230.24" cy="186.60" r="2.05"/>
<circle cx="233.99" cy="186.60" r="2.05"/>
<circle cx="237.75" cy="186.60" r="2.05"/>
<circle cx="241.50" cy="186.60" r="2.05"/>
<circle cx="176.00" cy="189.20" r="2.05"/>
<circle cx="179.75" cy="189.20" r="2.05"/>
<circle cx="183.50" cy="189.20" r="2.05"/>
<circle cx="187.25" cy="189.20" r="2.05"/>
<circle cx="191.00" cy="189.20" r="2.05"/>
<circle cx="194.75" cy="189.20" r="2.05"/>
<circle cx="198.50" cy="189.20" r="2.05"/>
<circle cx="202.25" cy="189.20" r="2.05"/>
<circle cx="206.00" cy="189.20" r="2.05"/>
<circle cx="209.75" cy="189.20" r="2.05"/>
<circle cx="213.50" cy="189.20" r="2.05"/>
<circle cx="217.25" cy="189.20" r="2.05"/>
<circle cx="221.00" cy="189.20" r="2.05"/>
<circle cx="224.75" cy="189.20" r="2.05"/>
<circle cx="228.50" cy="189.20" r="2.05"/>
<circle cx="232.25" cy="189.20" r="2.05"/>
<circle cx="236.00" cy="189.20" r="2.05"/>
<circle cx="239.75" cy="189.20" r="2.05"/>
<circle cx="243.50" cy="189.20" r="2.05"/>
<circle cx="174.60" cy="192.00" r="2.05"/>
<circle cx="178.38" cy="192.00" r="2.05"/>
<circle cx="182.17" cy="192.00" r="2.05"/>
<circle cx="185.95" cy="192.00" r="2.05"/>
<circle cx="189.74" cy="192.00" r="2.05"/>
<circle cx="193.52" cy="192.00" r="2.05"/>
<circle cx="197.31" cy="192.00" r="2.05"/>
<circle cx="201.09" cy="192.00" r="2.05"/>
<circle cx="204.87" cy="192.00" r="2.05"/>
<circle cx="208.66" cy="192.00" r="2.05"/>
<circle cx="212.44" cy="192.00" r="2.05"/>
<circle cx="216.23" cy="192.00" r="2.05"/>
<circle cx="220.01" cy="192.00" r="2.05"/>
<circle cx="223.79" cy="192.00" r="2.05"/>
<circle cx="227.58" cy="192.00" r="2.05"/>
<circle cx="231.36" cy="192.00" r="2.05"/>
<circle cx="235.15" cy="192.00" r="2.05"/>
<circle cx="238.93" cy="192.00" r="2.05"/>
<circle cx="242.72" cy="192.00" r="2.05"/>
<circle cx="246.50" cy="192.00" r="2.05"/>
<circle cx="177.70" cy="194.80" r="2.05"/>
<circle cx="181.33" cy="194.80" r="2.05"/>
<circle cx="184.96" cy="194.80" r="2.05"/>
<circle cx="188.58" cy="194.80" r="2.05"/>
<circle cx="192.21" cy="194.80" r="2.05"/>
<circle cx="195.84" cy="194.80" r="2.05"/>
<circle cx="199.47" cy="194.80" r="2.05"/>
<circle cx="203.09" cy="194.80" r="2.05"/>
<circle cx="206.72" cy="194.80" r="2.05"/>
<circle cx="210.35" cy="194.80" r="2.05"/>
<circle cx="213.98" cy="194.80" r="2.05"/>
<circle cx="217.61" cy="194.80" r="2.05"/>
<circle cx="221.23" cy="194.80" r="2.05"/>
<circle cx="224.86" cy="194.80" r="2.05"/>
<circle cx="228.49" cy="194.80" r="2.05"/>
<circle cx="232.12" cy="194.80" r="2.05"/>
<circle cx="235.74" cy="194.80" r="2.05"/>
<circle cx="239.37" cy="194.80" r="2.05"/>
<circle cx="243.00" cy="194.80" r="2.05"/>
<circle cx="193.00" cy="197.40" r="2.05"/>
<circle cx="196.75" cy="197.40" r="2.05"/>
<circle cx="200.50" cy="197.40" r="2.05"/>
<circle cx="204.25" cy="197.40" r="2.05"/>
<circle cx="208.00" cy="197.40" r="2.05"/>
<circle cx="211.75" cy="197.40" r="2.05"/>
<circle cx="215.50" cy="197.40" r="2.05"/>
<circle cx="219.25" cy="197.40" r="2.05"/>
<circle cx="223.00" cy="197.40" r="2.05"/>
<circle cx="197.70" cy="200.00" r="2.05"/>
<circle cx="201.17" cy="200.00" r="2.05"/>
<circle cx="204.63" cy="200.00" r="2.05"/>
<circle cx="208.10" cy="200.00" r="2.05"/>
<circle cx="211.57" cy="200.00" r="2.05"/>
<circle cx="215.03" cy="200.00" r="2.05"/>
<circle cx="218.50" cy="200.00" r="2.05"/>
<circle cx="201.00" cy="202.50" r="2.05"/>
<circle cx="204.40" cy="202.50" r="2.05"/>
<circle cx="207.80" cy="202.50" r="2.05"/>
<circle cx="211.20" cy="202.50" r="2.05"/>
<circle cx="214.60" cy="202.50" r="2.05"/>
</g>
<line x1="98.50" y1="172.60" x2="98.50" y2="184.20" stroke="#000" stroke-width="1.1"/>
<line x1="98.50" y1="195.10" x2="98.50" y2="203.20" stroke="#000" stroke-width="1.1"/>
<rect x="69.20" y="184.20" width="58.50" height="10.90" fill="none" stroke="#000" stroke-width="1.1"/>
<line x1="69.20" y1="189.20" x2="127.70" y2="189.20" stroke="#000" stroke-width="1.32"/>
<line x1="210.80" y1="174.60" x2="210.80" y2="186.20" stroke="#000" stroke-width="1.1"/>
<line x1="210.80" y1="195.60" x2="210.80" y2="205.00" stroke="#000" stroke-width="1.1"/>
<rect x="178.50" y="186.20" width="64.30" height="9.40" fill="none" stroke="#000" stroke-width="1.1"/>
<line x1="178.50" y1="190.80" x2="242.80" y2="190.80" stroke="#000" stroke-width="1.32"/>
<line x1="345.20" y1="56.90" x2="345.20" y2="114.50" stroke="#000" stroke-width="1.15"/>
<line x1="345.20" y1="157.60" x2="345.20" y2="212.30" stroke="#000" stroke-width="1.15"/>
<rect x="320.60" y="114.50" width="49.00" height="43.10" fill="none" stroke="#000" stroke-width="1.15"/>
<line x1="320.60" y1="139.40" x2="369.60" y2="139.40" stroke="#000" stroke-width="1.38"/>
<line x1="462.70" y1="68.00" x2="462.70" y2="122.00" stroke="#000" stroke-width="1.15"/>
<line x1="462.70" y1="157.40" x2="462.70" y2="210.80" stroke="#000" stroke-width="1.15"/>
<rect x="430.40" y="122.00" width="64.30" height="35.40" fill="none" stroke="#000" stroke-width="1.15"/>
<line x1="430.40" y1="128.90" x2="494.70" y2="128.90" stroke="#000" stroke-width="1.38"/>
<line x1="101.30" y1="314.10" x2="101.30" y2="385.70" stroke="#000" stroke-width="1.15"/>
<line x1="101.30" y1="443.30" x2="101.30" y2="458.00" stroke="#000" stroke-width="1.15"/>
<rect x="67.20" y="385.70" width="68.30" height="57.60" fill="none" stroke="#000" stroke-width="1.15"/>
<line x1="67.20" y1="422.70" x2="135.50" y2="422.70" stroke="#000" stroke-width="1.38"/>
<line x1="213.70" y1="299.50" x2="213.70" y2="385.50" stroke="#000" stroke-width="1.15"/>
<line x1="213.70" y1="443.10" x2="213.70" y2="458.50" stroke="#000" stroke-width="1.15"/>
<rect x="185.60" y="385.50" width="56.10" height="57.60" fill="none" stroke="#000" stroke-width="1.15"/>
<line x1="185.60" y1="415.00" x2="241.70" y2="415.00" stroke="#000" stroke-width="1.38"/>
<g fill="#e49a30" fill-opacity="0.72" stroke="#d08000" stroke-opacity="0.9" stroke-width="1.0">
<circle cx="352.30" cy="39.50" r="2.0"/>
<circle cx="347.90" cy="45.60" r="2.0"/>
<circle cx="345.20" cy="54.00" r="2.0"/>
<circle cx="357.70" cy="55.60" r="2.0"/>
<circle cx="337.80" cy="73.80" r="2.0"/>
<circle cx="348.20" cy="76.90" r="2.0"/>
<circle cx="352.50" cy="75.90" r="2.0"/>
<circle cx="343.80" cy="84.80" r="2.0"/>
<circle cx="358.60" cy="86.70" r="2.0"/>
<circle cx="343.75" cy="92.25" r="2.0"/>
<circle cx="351.90" cy="93.75" r="2.0"/>
<circle cx="361.50" cy="92.25" r="2.0"/>
<circle cx="334.00" cy="96.90" r="2.0"/>
<circle cx="339.00" cy="96.00" r="2.0"/>
<circle cx="339.40" cy="100.60" r="2.0"/>
<circle cx="365.25" cy="102.10" r="2.0"/>
<circle cx="330.60" cy="105.00" r="2.0"/>
<circle cx="334.00" cy="104.40" r="2.0"/>
<circle cx="341.00" cy="104.40" r="2.0"/>
<circle cx="351.25" cy="102.50" r="2.0"/>
<circle cx="356.60" cy="103.40" r="2.0"/>
<circle cx="330.00" cy="110.60" r="2.0"/>
<circle cx="345.60" cy="108.75" r="2.0"/>
<circle cx="346.90" cy="111.50" r="2.0"/>
<circle cx="355.00" cy="111.60" r="2.0"/>
<circle cx="337.75" cy="118.10" r="2.0"/>
<circle cx="337.25" cy="120.40" r="2.0"/>
<circle cx="343.75" cy="118.50" r="2.0"/>
<circle cx="322.75" cy="121.90" r="2.0"/>
<circle cx="331.25" cy="122.90" r="2.0"/>
<circle cx="339.40" cy="124.00" r="2.0"/>
<circle cx="362.50" cy="119.40" r="2.0"/>
<circle cx="362.25" cy="121.25" r="2.0"/>
<circle cx="363.10" cy="123.10" r="2.0"/>
<circle cx="361.25" cy="126.90" r="2.0"/>
<circle cx="342.25" cy="129.75" r="2.0"/>
<circle cx="347.25" cy="129.40" r="2.0"/>
<circle cx="349.75" cy="129.40" r="2.0"/>
<circle cx="348.50" cy="133.10" r="2.0"/>
<circle cx="355.60" cy="131.25" r="2.0"/>
<circle cx="359.40" cy="130.60" r="2.0"/>
<circle cx="326.25" cy="131.90" r="2.0"/>
<circle cx="316.00" cy="132.50" r="2.0"/>
<circle cx="318.10" cy="137.25" r="2.0"/>
<circle cx="321.90" cy="136.00" r="2.0"/>
<circle cx="345.00" cy="135.60" r="2.0"/>
<circle cx="333.10" cy="136.90" r="2.0"/>
<circle cx="336.25" cy="137.25" r="2.0"/>
<circle cx="370.00" cy="132.25" r="2.0"/>
<circle cx="373.75" cy="136.25" r="2.0"/>
<circle cx="379.90" cy="138.40" r="2.0"/>
<circle cx="352.25" cy="138.75" r="2.0"/>
<circle cx="353.75" cy="138.50" r="2.0"/>
<circle cx="351.50" cy="142.50" r="2.0"/>
<circle cx="358.10" cy="142.75" r="2.0"/>
<circle cx="359.00" cy="141.90" r="2.0"/>
<circle cx="316.00" cy="146.90" r="2.0"/>
<circle cx="332.50" cy="146.90" r="2.0"/>
<circle cx="340.60" cy="145.00" r="2.0"/>
<circle cx="325.60" cy="148.75" r="2.0"/>
<circle cx="343.50" cy="149.40" r="2.0"/>
<circle cx="347.75" cy="148.75" r="2.0"/>
<circle cx="361.25" cy="149.40" r="2.0"/>
<circle cx="365.00" cy="145.60" r="2.0"/>
<circle cx="365.60" cy="148.75" r="2.0"/>
<circle cx="313.40" cy="136.80" r="2.0"/>
<circle cx="314.80" cy="146.80" r="2.0"/>
<circle cx="332.30" cy="146.80" r="2.0"/>
<circle cx="342.30" cy="150.50" r="2.0"/>
<circle cx="351.70" cy="141.90" r="2.0"/>
<circle cx="365.30" cy="146.10" r="2.0"/>
<circle cx="366.50" cy="149.40" r="2.0"/>
<circle cx="372.20" cy="154.90" r="2.0"/>
<circle cx="367.40" cy="155.30" r="2.0"/>
<circle cx="331.00" cy="155.30" r="2.0"/>
<circle cx="332.60" cy="155.80" r="2.0"/>
<circle cx="345.20" cy="155.30" r="2.0"/>
<circle cx="321.30" cy="157.00" r="2.0"/>
<circle cx="357.20" cy="156.20" r="2.0"/>
<circle cx="326.20" cy="161.00" r="2.0"/>
<circle cx="347.50" cy="159.10" r="2.0"/>
<circle cx="352.80" cy="160.20" r="2.0"/>
<circle cx="357.70" cy="160.70" r="2.0"/>
<circle cx="329.40" cy="165.80" r="2.0"/>
<circle cx="339.10" cy="163.90" r="2.0"/>
<circle cx="351.20" cy="164.60" r="2.0"/>
<circle cx="353.30" cy="169.90" r="2.0"/>
<circle cx="332.60" cy="174.20" r="2.0"/>
<circle cx="338.80" cy="173.10" r="2.0"/>
<circle cx="337.80" cy="175.20" r="2.0"/>
<circle cx="342.60" cy="176.30" r="2.0"/>
<circle cx="351.20" cy="174.20" r="2.0"/>
<circle cx="329.10" cy="184.90" r="2.0"/>
<circle cx="336.20" cy="183.30" r="2.0"/>
<circle cx="346.80" cy="183.30" r="2.0"/>
<circle cx="352.80" cy="185.20" r="2.0"/>
<circle cx="361.40" cy="184.90" r="2.0"/>
<circle cx="348.40" cy="192.00" r="2.0"/>
<circle cx="352.80" cy="194.60" r="2.0"/>
<circle cx="353.90" cy="194.10" r="2.0"/>
<circle cx="338.30" cy="203.00" r="2.0"/>
<circle cx="343.60" cy="204.30" r="2.0"/>
<circle cx="358.10" cy="202.70" r="2.0"/>
<circle cx="345.50" cy="215.90" r="2.0"/>
<circle cx="325.30" cy="149.40" r="2.0"/>
<circle cx="340.70" cy="144.80" r="2.0"/>
<circle cx="358.10" cy="142.40" r="2.0"/>
<circle cx="361.40" cy="150.50" r="2.0"/>
</g>
<g fill="#374b92" fill-opacity="0.72" stroke="#1a2c74" stroke-opacity="0.9" stroke-width="1.0">
<circle cx="465.70" cy="57.70" r="2.0"/>
<circle cx="466.20" cy="63.80" r="2.0"/>
<circle cx="461.20" cy="68.50" r="2.0"/>
<circle cx="470.00" cy="69.20" r="2.0"/>
<circle cx="450.80" cy="74.30" r="2.0"/>
<circle cx="455.10" cy="81.50" r="2.0"/>
<circle cx="458.20" cy="85.10" r="2.0"/>
<circle cx="460.80" cy="87.20" r="2.0"/>
<circle cx="464.60" cy="90.30" r="2.0"/>
<circle cx="478.90" cy="87.40" r="2.0"/>
<circle cx="455.10" cy="92.60" r="2.0"/>
<circle cx="472.80" cy="93.10" r="2.0"/>
<circle cx="457.20" cy="100.50" r="2.0"/>
<circle cx="454.20" cy="102.60" r="2.0"/>
<circle cx="458.50" cy="106.20" r="2.0"/>
<circle cx="447.40" cy="104.20" r="2.0"/>
<circle cx="472.60" cy="103.50" r="2.0"/>
<circle cx="477.70" cy="103.50" r="2.0"/>
<circle cx="449.20" cy="109.70" r="2.0"/>
<circle cx="445.40" cy="112.80" r="2.0"/>
<circle cx="466.90" cy="109.20" r="2.0"/>
<circle cx="465.80" cy="111.20" r="2.0"/>
<circle cx="466.20" cy="113.10" r="2.0"/>
<circle cx="424.30" cy="119.20" r="2.0"/>
<circle cx="434.20" cy="120.00" r="2.0"/>
<circle cx="443.40" cy="120.50" r="2.0"/>
<circle cx="451.50" cy="119.20" r="2.0"/>
<circle cx="460.00" cy="118.90" r="2.0"/>
<circle cx="477.20" cy="119.20" r="2.0"/>
<circle cx="495.70" cy="118.20" r="2.0"/>
<circle cx="421.30" cy="124.20" r="2.0"/>
<circle cx="445.60" cy="122.30" r="2.0"/>
<circle cx="432.10" cy="127.80" r="2.0"/>
<circle cx="428.90" cy="130.70" r="2.0"/>
<circle cx="441.40" cy="126.50" r="2.0"/>
<circle cx="449.60" cy="124.20" r="2.0"/>
<circle cx="453.50" cy="124.40" r="2.0"/>
<circle cx="449.10" cy="127.30" r="2.0"/>
<circle cx="445.60" cy="130.40" r="2.0"/>
<circle cx="458.10" cy="130.70" r="2.0"/>
<circle cx="462.10" cy="137.10" r="2.0"/>
<circle cx="464.00" cy="138.80" r="2.0"/>
<circle cx="453.00" cy="140.00" r="2.0"/>
<circle cx="456.30" cy="142.50" r="2.0"/>
<circle cx="441.90" cy="150.20" r="2.0"/>
<circle cx="446.30" cy="148.70" r="2.0"/>
<circle cx="456.80" cy="150.20" r="2.0"/>
<circle cx="460.20" cy="149.40" r="2.0"/>
<circle cx="436.30" cy="156.20" r="2.0"/>
<circle cx="447.70" cy="158.10" r="2.0"/>
<circle cx="453.90" cy="158.10" r="2.0"/>
<circle cx="464.00" cy="155.20" r="2.0"/>
<circle cx="466.10" cy="122.30" r="2.0"/>
<circle cx="471.80" cy="122.50" r="2.0"/>
<circle cx="474.70" cy="123.00" r="2.0"/>
<circle cx="481.40" cy="123.90" r="2.0"/>
<circle cx="502.30" cy="121.10" r="2.0"/>
<circle cx="500.70" cy="124.60" r="2.0"/>
<circle cx="472.60" cy="127.80" r="2.0"/>
<circle cx="469.00" cy="131.00" r="2.0"/>
<circle cx="472.30" cy="133.30" r="2.0"/>
<circle cx="478.60" cy="132.30" r="2.0"/>
<circle cx="481.00" cy="131.60" r="2.0"/>
<circle cx="485.60" cy="130.70" r="2.0"/>
<circle cx="498.30" cy="131.90" r="2.0"/>
<circle cx="504.20" cy="132.90" r="2.0"/>
<circle cx="464.60" cy="136.40" r="2.0"/>
<circle cx="484.60" cy="137.40" r="2.0"/>
<circle cx="477.60" cy="146.30" r="2.0"/>
<circle cx="479.00" cy="148.90" r="2.0"/>
<circle cx="479.50" cy="151.20" r="2.0"/>
<circle cx="470.40" cy="149.20" r="2.0"/>
<circle cx="488.80" cy="157.60" r="2.0"/>
<circle cx="496.20" cy="159.00" r="2.0"/>
<circle cx="470.90" cy="159.00" r="2.0"/>
<circle cx="471.50" cy="161.10" r="2.0"/>
<circle cx="472.00" cy="163.10" r="2.0"/>
<circle cx="498.50" cy="164.60" r="2.0"/>
<circle cx="437.20" cy="164.20" r="2.0"/>
<circle cx="448.90" cy="164.60" r="2.0"/>
<circle cx="453.50" cy="164.60" r="2.0"/>
<circle cx="454.20" cy="167.20" r="2.0"/>
<circle cx="441.20" cy="169.20" r="2.0"/>
<circle cx="461.80" cy="169.20" r="2.0"/>
<circle cx="461.50" cy="172.80" r="2.0"/>
<circle cx="468.90" cy="167.70" r="2.0"/>
<circle cx="473.50" cy="169.20" r="2.0"/>
<circle cx="477.70" cy="168.80" r="2.0"/>
<circle cx="485.40" cy="169.70" r="2.0"/>
<circle cx="456.60" cy="176.50" r="2.0"/>
<circle cx="460.30" cy="178.50" r="2.0"/>
<circle cx="473.10" cy="186.60" r="2.0"/>
<circle cx="472.30" cy="188.20" r="2.0"/>
<circle cx="474.20" cy="191.80" r="2.0"/>
<circle cx="466.50" cy="193.80" r="2.0"/>
<circle cx="472.00" cy="194.90" r="2.0"/>
<circle cx="455.10" cy="194.60" r="2.0"/>
<circle cx="451.50" cy="197.40" r="2.0"/>
<circle cx="468.00" cy="202.00" r="2.0"/>
<circle cx="457.70" cy="209.20" r="2.0"/>
<circle cx="469.20" cy="225.40" r="2.0"/>
</g>
<g fill="#e49a30" fill-opacity="0.72" stroke="#d08000" stroke-opacity="0.9" stroke-width="1.0">
<circle cx="96.40" cy="287.80" r="2.0"/>
<circle cx="107.40" cy="309.70" r="2.0"/>
<circle cx="106.50" cy="315.00" r="2.0"/>
<circle cx="108.70" cy="325.90" r="2.0"/>
<circle cx="104.30" cy="339.20" r="2.0"/>
<circle cx="98.60" cy="341.20" r="2.0"/>
<circle cx="95.70" cy="343.90" r="2.0"/>
<circle cx="105.60" cy="344.30" r="2.0"/>
<circle cx="110.00" cy="352.70" r="2.0"/>
<circle cx="113.80" cy="353.80" r="2.0"/>
<circle cx="87.70" cy="358.80" r="2.0"/>
<circle cx="97.70" cy="361.20" r="2.0"/>
<circle cx="103.40" cy="357.30" r="2.0"/>
<circle cx="106.20" cy="366.10" r="2.0"/>
<circle cx="110.80" cy="369.20" r="2.0"/>
<circle cx="98.50" cy="371.60" r="2.0"/>
<circle cx="103.40" cy="371.60" r="2.0"/>
<circle cx="106.20" cy="374.20" r="2.0"/>
<circle cx="87.70" cy="374.70" r="2.0"/>
<circle cx="94.60" cy="380.80" r="2.0"/>
<circle cx="98.80" cy="381.90" r="2.0"/>
<circle cx="106.50" cy="386.10" r="2.0"/>
<circle cx="124.90" cy="386.10" r="2.0"/>
<circle cx="98.20" cy="388.50" r="2.0"/>
<circle cx="88.50" cy="390.70" r="2.0"/>
<circle cx="92.60" cy="390.40" r="2.0"/>
<circle cx="103.10" cy="394.60" r="2.0"/>
<circle cx="110.20" cy="394.80" r="2.0"/>
<circle cx="119.40" cy="395.50" r="2.0"/>
<circle cx="90.00" cy="395.50" r="2.0"/>
<circle cx="95.70" cy="398.10" r="2.0"/>
<circle cx="117.20" cy="397.00" r="2.0"/>
<circle cx="104.30" cy="399.60" r="2.0"/>
<circle cx="82.80" cy="399.60" r="2.0"/>
<circle cx="88.50" cy="401.20" r="2.0"/>
<circle cx="96.90" cy="411.50" r="2.0"/>
<circle cx="100.30" cy="409.60" r="2.0"/>
<circle cx="103.40" cy="408.40" r="2.0"/>
<circle cx="105.40" cy="409.90" r="2.0"/>
<circle cx="109.50" cy="412.40" r="2.0"/>
<circle cx="118.20" cy="410.80" r="2.0"/>
<circle cx="121.80" cy="415.00" r="2.0"/>
<circle cx="131.10" cy="409.60" r="2.0"/>
<circle cx="78.20" cy="413.50" r="2.0"/>
<circle cx="79.70" cy="415.50" r="2.0"/>
<circle cx="87.40" cy="415.00" r="2.0"/>
<circle cx="108.50" cy="419.60" r="2.0"/>
<circle cx="69.50" cy="423.80" r="2.0"/>
<circle cx="76.20" cy="424.70" r="2.0"/>
<circle cx="90.50" cy="425.00" r="2.0"/>
<circle cx="94.20" cy="424.70" r="2.0"/>
<circle cx="95.40" cy="426.50" r="2.0"/>
<circle cx="108.00" cy="423.50" r="2.0"/>
<circle cx="121.50" cy="423.50" r="2.0"/>
<circle cx="113.10" cy="427.30" r="2.0"/>
<circle cx="121.50" cy="427.30" r="2.0"/>
<circle cx="138.50" cy="430.00" r="2.0"/>
<circle cx="80.00" cy="429.00" r="2.0"/>
<circle cx="105.40" cy="429.00" r="2.0"/>
<circle cx="79.20" cy="433.50" r="2.0"/>
<circle cx="100.30" cy="434.70" r="2.0"/>
<circle cx="120.40" cy="432.50" r="2.0"/>
<circle cx="129.70" cy="432.50" r="2.0"/>
<circle cx="95.10" cy="441.60" r="2.0"/>
<circle cx="100.80" cy="441.60" r="2.0"/>
<circle cx="106.60" cy="442.10" r="2.0"/>
<circle cx="110.70" cy="439.90" r="2.0"/>
<circle cx="120.70" cy="440.40" r="2.0"/>
<circle cx="81.30" cy="444.20" r="2.0"/>
<circle cx="119.90" cy="446.30" r="2.0"/>
<circle cx="85.80" cy="448.50" r="2.0"/>
<circle cx="101.70" cy="448.00" r="2.0"/>
<circle cx="83.50" cy="452.50" r="2.0"/>
<circle cx="106.60" cy="452.50" r="2.0"/>
<circle cx="110.00" cy="452.00" r="2.0"/>
<circle cx="119.00" cy="454.30" r="2.0"/>
<circle cx="65.00" cy="456.00" r="2.0"/>
<circle cx="70.60" cy="456.30" r="2.0"/>
<circle cx="76.10" cy="456.30" r="2.0"/>
<circle cx="78.40" cy="456.70" r="2.0"/>
<circle cx="82.70" cy="459.40" r="2.0"/>
<circle cx="89.60" cy="459.80" r="2.0"/>
<circle cx="87.90" cy="462.40" r="2.0"/>
<circle cx="81.30" cy="464.10" r="2.0"/>
<circle cx="103.10" cy="463.60" r="2.0"/>
<circle cx="106.60" cy="461.90" r="2.0"/>
<circle cx="115.90" cy="458.40" r="2.0"/>
<circle cx="122.80" cy="458.40" r="2.0"/>
<circle cx="128.00" cy="457.20" r="2.0"/>
<circle cx="132.90" cy="457.70" r="2.0"/>
<circle cx="134.90" cy="456.00" r="2.0"/>
<circle cx="136.00" cy="461.20" r="2.0"/>
<circle cx="143.60" cy="456.00" r="2.0"/>
</g>
<g fill="#374b92" fill-opacity="0.72" stroke="#1a2c74" stroke-opacity="0.9" stroke-width="1.0">
<circle cx="201.90" cy="297.60" r="2.0"/>
<circle cx="205.80" cy="308.40" r="2.0"/>
<circle cx="213.50" cy="308.40" r="2.0"/>
<circle cx="202.40" cy="341.20" r="2.0"/>
<circle cx="206.20" cy="341.20" r="2.0"/>
<circle cx="229.90" cy="341.90" r="2.0"/>
<circle cx="210.10" cy="347.30" r="2.0"/>
<circle cx="216.20" cy="345.80" r="2.0"/>
<circle cx="222.20" cy="351.50" r="2.0"/>
<circle cx="199.30" cy="355.60" r="2.0"/>
<circle cx="201.50" cy="360.70" r="2.0"/>
<circle cx="217.30" cy="358.50" r="2.0"/>
<circle cx="222.40" cy="357.00" r="2.0"/>
<circle cx="215.80" cy="362.20" r="2.0"/>
<circle cx="224.50" cy="360.70" r="2.0"/>
<circle cx="229.20" cy="360.10" r="2.0"/>
<circle cx="227.30" cy="366.50" r="2.0"/>
<circle cx="228.80" cy="368.40" r="2.0"/>
<circle cx="199.90" cy="369.30" r="2.0"/>
<circle cx="203.00" cy="370.40" r="2.0"/>
<circle cx="215.30" cy="369.30" r="2.0"/>
<circle cx="216.50" cy="368.40" r="2.0"/>
<circle cx="210.10" cy="372.40" r="2.0"/>
<circle cx="195.30" cy="375.50" r="2.0"/>
<circle cx="222.40" cy="374.50" r="2.0"/>
<circle cx="216.50" cy="380.70" r="2.0"/>
<circle cx="217.80" cy="381.90" r="2.0"/>
<circle cx="225.50" cy="382.20" r="2.0"/>
<circle cx="228.10" cy="383.80" r="2.0"/>
<circle cx="228.50" cy="385.00" r="2.0"/>
<circle cx="211.90" cy="387.30" r="2.0"/>
<circle cx="196.50" cy="388.40" r="2.0"/>
<circle cx="208.10" cy="391.50" r="2.0"/>
<circle cx="197.80" cy="395.50" r="2.0"/>
<circle cx="210.10" cy="395.50" r="2.0"/>
<circle cx="218.40" cy="397.30" r="2.0"/>
<circle cx="229.20" cy="395.50" r="2.0"/>
<circle cx="190.10" cy="398.80" r="2.0"/>
<circle cx="199.60" cy="398.80" r="2.0"/>
<circle cx="214.20" cy="400.20" r="2.0"/>
<circle cx="223.90" cy="400.20" r="2.0"/>
<circle cx="225.00" cy="402.10" r="2.0"/>
<circle cx="240.90" cy="402.10" r="2.0"/>
<circle cx="208.40" cy="405.20" r="2.0"/>
<circle cx="233.70" cy="405.20" r="2.0"/>
<circle cx="188.20" cy="410.40" r="2.0"/>
<circle cx="196.30" cy="413.40" r="2.0"/>
<circle cx="207.70" cy="411.60" r="2.0"/>
<circle cx="208.40" cy="412.80" r="2.0"/>
<circle cx="212.90" cy="409.90" r="2.0"/>
<circle cx="226.20" cy="411.60" r="2.0"/>
<circle cx="228.00" cy="410.80" r="2.0"/>
<circle cx="184.20" cy="416.80" r="2.0"/>
<circle cx="188.20" cy="415.60" r="2.0"/>
<circle cx="196.80" cy="417.30" r="2.0"/>
<circle cx="211.90" cy="418.00" r="2.0"/>
<circle cx="215.30" cy="415.60" r="2.0"/>
<circle cx="217.10" cy="420.80" r="2.0"/>
<circle cx="222.20" cy="416.80" r="2.0"/>
<circle cx="228.00" cy="419.10" r="2.0"/>
<circle cx="231.90" cy="419.10" r="2.0"/>
<circle cx="232.60" cy="416.30" r="2.0"/>
<circle cx="207.20" cy="424.60" r="2.0"/>
<circle cx="208.90" cy="428.10" r="2.0"/>
<circle cx="216.40" cy="426.70" r="2.0"/>
<circle cx="218.80" cy="428.90" r="2.0"/>
<circle cx="219.30" cy="432.40" r="2.0"/>
<circle cx="179.50" cy="438.20" r="2.0"/>
<circle cx="188.20" cy="439.40" r="2.0"/>
<circle cx="212.90" cy="438.50" r="2.0"/>
<circle cx="215.30" cy="439.20" r="2.0"/>
<circle cx="221.60" cy="440.20" r="2.0"/>
<circle cx="243.20" cy="440.10" r="2.0"/>
<circle cx="224.00" cy="441.20" r="2.0"/>
<circle cx="248.20" cy="442.50" r="2.0"/>
<circle cx="236.60" cy="443.00" r="2.0"/>
<circle cx="182.50" cy="444.70" r="2.0"/>
<circle cx="181.80" cy="448.20" r="2.0"/>
<circle cx="194.20" cy="447.00" r="2.0"/>
<circle cx="201.10" cy="447.00" r="2.0"/>
<circle cx="202.50" cy="448.70" r="2.0"/>
<circle cx="210.10" cy="445.90" r="2.0"/>
<circle cx="211.20" cy="447.60" r="2.0"/>
<circle cx="216.70" cy="446.40" r="2.0"/>
<circle cx="225.70" cy="445.90" r="2.0"/>
<circle cx="240.90" cy="447.30" r="2.0"/>
<circle cx="185.20" cy="454.20" r="2.0"/>
<circle cx="196.30" cy="452.10" r="2.0"/>
<circle cx="198.50" cy="454.60" r="2.0"/>
<circle cx="204.30" cy="455.60" r="2.0"/>
<circle cx="199.80" cy="458.00" r="2.0"/>
<circle cx="215.30" cy="457.30" r="2.0"/>
<circle cx="188.20" cy="459.40" r="2.0"/>
<circle cx="187.30" cy="462.50" r="2.0"/>
<circle cx="195.10" cy="463.70" r="2.0"/>
<circle cx="210.70" cy="461.10" r="2.0"/>
<circle cx="225.00" cy="459.10" r="2.0"/>
<circle cx="227.10" cy="460.80" r="2.0"/>
<circle cx="228.80" cy="462.00" r="2.0"/>
<circle cx="233.70" cy="460.80" r="2.0"/>
<circle cx="238.90" cy="457.30" r="2.0"/>
<circle cx="242.30" cy="456.80" r="2.0"/>
<circle cx="238.90" cy="462.50" r="2.0"/>
</g>
<g shape-rendering="crispEdges">
<rect x="0" y="0" width="520" height="1" fill="#333"/>
<rect x="0" y="1" width="520" height="1" fill="#999"/>
<rect x="0" y="524" width="520" height="1" fill="#888"/>
<rect x="0" y="525" width="520" height="1" fill="#111"/>
<rect x="0" y="0" width="1" height="526" fill="#000"/>
<rect x="1" y="1" width="1" height="524" fill="#888"/>
<rect x="517" y="1" width="1" height="524" fill="#ccc"/>
<rect x="518" y="0" width="1" height="526" fill="#555"/>
<rect x="519" y="0" width="1" height="526" fill="#333"/>
</g>
</svg>
</body></html>
